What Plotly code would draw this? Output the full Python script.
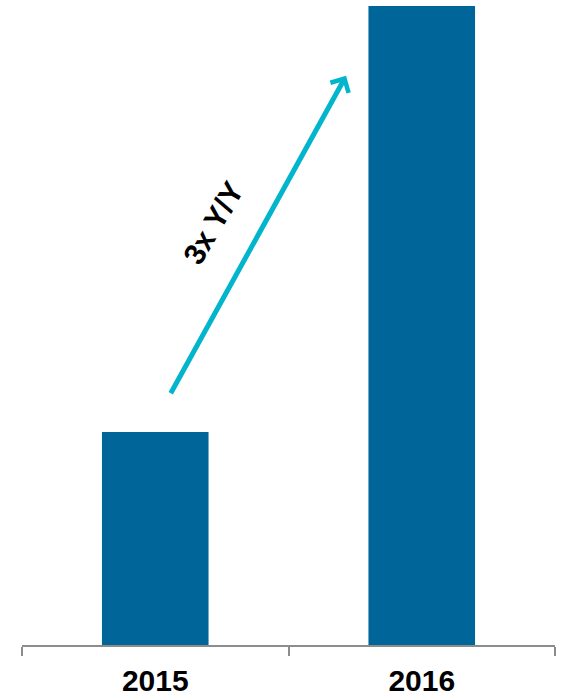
import plotly.graph_objects as go

years = ["2015", "2016"]
values = [1.0, 3.0]
growth_label = "3x Y/Y"

# arrow endpoints in data coordinates (category index, value)
arrow_tail = (0.055, 1.175)
arrow_head = (0.716, 2.672)
label_pos = (0.218, 1.985)

bar_color = "#006699"
arrow_color = "#00B5CC"
font_family = "Liberation Sans, Arial, sans-serif"

fig = go.Figure()
fig.add_trace(go.Bar(
    x=years, y=values, width=0.4,
    marker=dict(color=bar_color, line=dict(width=0)),
    hoverinfo="skip",
))

fig.add_annotation(
    x=arrow_head[0], y=arrow_head[1], xref="x", yref="y",
    ax=arrow_tail[0], ay=arrow_tail[1], axref="x", ayref="y",
    text="", showarrow=True, arrowhead=4, arrowsize=0.8,
    arrowwidth=5, arrowcolor=arrow_color, standoff=0, startstandoff=0,
)
fig.add_annotation(
    x=label_pos[0], y=label_pos[1], xref="x", yref="y",
    text="<b>" + growth_label + "</b>", showarrow=False, textangle=-60,
    font=dict(family=font_family, size=30, color="#000000"),
)

fig.update_layout(
    width=562, height=696,
    margin=dict(l=22, r=7, t=6, b=51, pad=0, autoexpand=False),
    paper_bgcolor="white", plot_bgcolor="white",
    showlegend=False,
    xaxis=dict(
        type="category", range=[-0.5, 1.5], automargin=False,
        showline=True, linecolor="#8c8c8c", linewidth=2,
        ticks="outside", tickson="boundaries", ticklen=9, tickwidth=2, tickcolor="#8c8c8c",
        tickfont=dict(family=font_family, size=30, color="#000000", weight="bold"),
        ticklabelstandoff=8,
        showgrid=False, zeroline=False, fixedrange=True,
    ),
    yaxis=dict(
        range=[0, 3], visible=False, automargin=False,
        showgrid=False, zeroline=False, fixedrange=True,
    ),
)

fig.write_html(
    "out.html",
    config={"displayModeBar": False},
    post_script="document.body.style.margin='0';document.body.style.overflow='hidden';",
)
